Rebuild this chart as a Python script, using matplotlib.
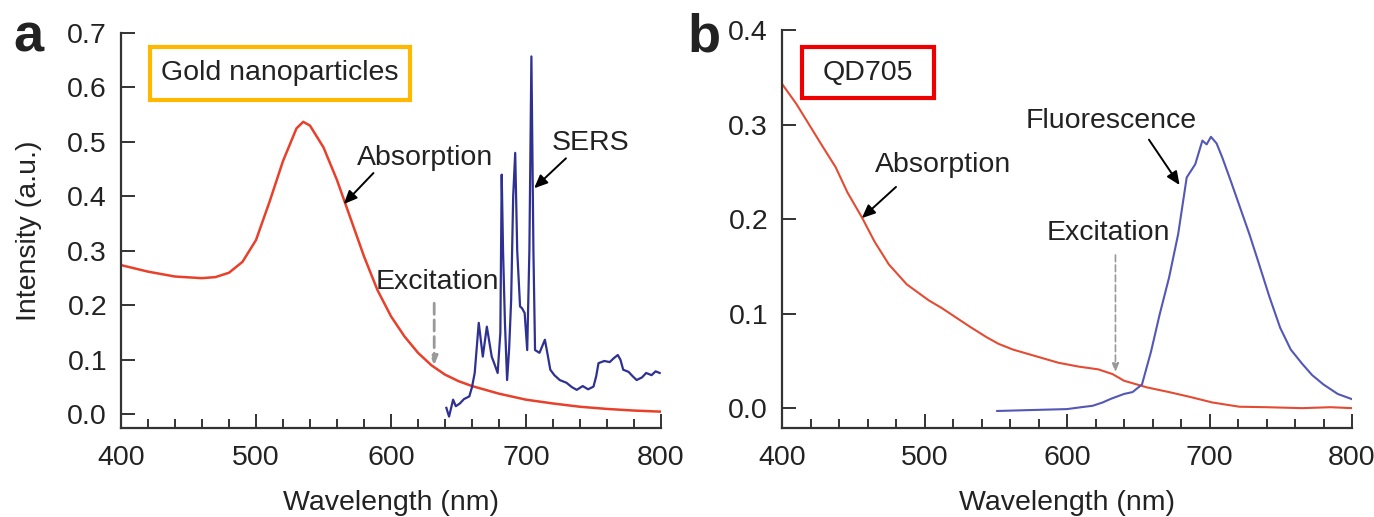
import matplotlib
matplotlib.use("Agg")
import matplotlib.pyplot as plt
from matplotlib.patches import Rectangle
from matplotlib.ticker import MultipleLocator

plt.rcParams["font.family"] = ["Liberation Sans", "DejaVu Sans"]

# panel a: gold nanoparticles
abs_a_wl = [400, 420, 440, 460, 470, 480, 490, 500, 510, 520, 530, 535, 540, 550, 560,
            570, 580, 590, 600, 610, 620, 630, 640, 650, 660, 680, 700, 720, 740, 760, 780, 800]
abs_a_val = [0.274, 0.262, 0.253, 0.250, 0.252, 0.260, 0.280, 0.320, 0.390, 0.465, 0.525,
             0.537, 0.530, 0.490, 0.430, 0.360, 0.290, 0.228, 0.180, 0.143, 0.113, 0.090,
             0.073, 0.061, 0.052, 0.038, 0.027, 0.020, 0.014, 0.010, 0.007, 0.005]
sers_wl = [641, 643, 646, 648, 651, 654, 658, 660, 662, 665, 668, 671, 674.6, 677, 679, 681,
           682, 683, 684.4, 686, 687.5, 689, 690.5, 692, 693.5, 695.6, 697, 699, 700.9, 702.5,
           704, 705.5, 706.7, 710, 714, 716, 718, 721, 725, 730, 734, 737.6, 742, 746, 750,
           752, 753.7, 758, 762, 765, 768, 770, 772, 776, 779, 782, 786, 789, 793, 796, 799]
sers_val = [0.012, -0.004, 0.027, 0.015, 0.020, 0.028, 0.033, 0.050, 0.076, 0.168, 0.106,
            0.161, 0.106, 0.090, 0.076, 0.150, 0.440, 0.300, 0.168, 0.063, 0.120, 0.210, 0.400,
            0.480, 0.300, 0.198, 0.195, 0.186, 0.118, 0.300, 0.657, 0.300, 0.118, 0.113, 0.137,
            0.110, 0.082, 0.072, 0.063, 0.058, 0.050, 0.045, 0.052, 0.046, 0.051, 0.070, 0.094,
            0.098, 0.096, 0.103, 0.109, 0.100, 0.082, 0.078, 0.070, 0.063, 0.068, 0.076, 0.072,
            0.079, 0.076]

# panel b: QD705
abs_b_wl = [400, 410, 419, 428, 437.6, 446, 456, 465, 475, 487.5, 503, 512, 522, 532,
            543.6, 552, 562, 578, 594, 608, 622, 632, 640, 656, 671.6, 686, 702, 721, 740,
            765, 785, 800]
abs_b_val = [0.343, 0.322, 0.300, 0.278, 0.255, 0.228, 0.202, 0.176, 0.152, 0.131, 0.114,
             0.106, 0.096, 0.086, 0.075, 0.068, 0.062, 0.055, 0.048, 0.044, 0.041, 0.036,
             0.029, 0.022, 0.017, 0.012, 0.006, 0.0015, 0.001, 0.000, 0.001, 0.000]
fl_wl = [551, 575, 600, 610, 618, 625, 631, 640, 646, 652.6, 659, 665, 671.6, 678, 684,
         690, 695, 698, 701, 705, 709, 715, 721.5, 728, 734, 742, 749.6, 757, 765, 772, 780,
         790, 800]
fl_val = [-0.003, -0.002, -0.001, 0.001, 0.0025, 0.006, 0.010, 0.015, 0.017, 0.025, 0.060,
          0.099, 0.138, 0.184, 0.244, 0.258, 0.283, 0.279, 0.287, 0.280, 0.265, 0.240, 0.212,
          0.184, 0.156, 0.118, 0.085, 0.062, 0.047, 0.035, 0.025, 0.015, 0.0095]

TXT = "#222222"
AX = "#333333"
FS = 20.5


def style(ax, ymax, ymin):
    ax.set_xlim(400, 800)
    ax.set_ylim(ymin, ymax)
    for side in ("top", "right"):
        ax.spines[side].set_visible(False)
    for side in ("left", "bottom"):
        ax.spines[side].set_color(AX)
        ax.spines[side].set_linewidth(1.6)
    ax.spines["left"].set_bounds(ymin, ymax)
    ax.xaxis.set_major_locator(MultipleLocator(100))
    ax.xaxis.set_minor_locator(MultipleLocator(20))
    ax.yaxis.set_major_locator(MultipleLocator(0.1))
    ax.tick_params(axis="both", which="major", direction="in", length=10, width=1.4,
                   color=AX, labelsize=FS, labelcolor=TXT)
    ax.tick_params(axis="x", which="major", pad=12)
    ax.tick_params(axis="y", which="major", pad=10)
    ax.tick_params(axis="x", which="minor", direction="in", length=6.5, width=1.4, color=AX)
    ax.yaxis.set_major_formatter(matplotlib.ticker.FormatStrFormatter("%.1f"))
    ax.set_xlabel("Wavelength (nm)", fontsize=FS, color=TXT, labelpad=14)


def label_box(ax, x0, y0, x1, y1, text, color):
    ax.add_patch(Rectangle((x0, y0), x1 - x0, y1 - y0, transform=ax.transAxes, fill=False,
                           edgecolor=color, linewidth=3, clip_on=False, zorder=5))
    ax.text((x0 + x1) / 2, (y0 + y1) / 2, text, transform=ax.transAxes, ha="center",
            va="center", fontsize=FS, color=TXT)


def note(ax, text, xy_text, tail, tip):
    ax.text(*xy_text, text, ha="center", va="center", fontsize=FS, color=TXT)
    ax.annotate("", xy=tip, xytext=tail,
                arrowprops=dict(arrowstyle="-|>,head_length=0.8,head_width=0.35",
                                color="black", lw=1.4, shrinkA=0, shrinkB=0))


def excitation(ax, xy_text, x, y0, y1, lw):
    ax.text(*xy_text, "Excitation", ha="center", va="center", fontsize=FS, color=TXT)
    ax.annotate("", xy=(x, y1), xytext=(x, y0),
                arrowprops=dict(arrowstyle="-|>,head_length=0.5,head_width=0.2",
                                color="#999999", lw=lw, linestyle=(0, (4, 2)),
                                shrinkA=0, shrinkB=0))


fig = plt.figure(figsize=(13.74, 5.17), dpi=100)
ax_a = fig.add_axes([121 / 1374, 89 / 517, 540 / 1374, 395 / 517])
ax_b = fig.add_axes([782 / 1374, 89 / 517, 570 / 1374, 398 / 517])

# panel a
style(ax_a, 0.7, -0.025)
ax_a.plot(abs_a_wl, abs_a_val, color="#E8402A", lw=1.8)
ax_a.plot(sers_wl, sers_val, color="#2E3192", lw=1.6)
ax_a.set_ylabel("Intensity (a.u.)", fontsize=FS, color=TXT, labelpad=18)
label_box(ax_a, 0.054, 0.830, 0.535, 0.965, "Gold nanoparticles", "#FFB800")
note(ax_a, "Absorption", (625, 0.47), (587, 0.443), (565, 0.386))
note(ax_a, "SERS", (748, 0.498), (729.6, 0.47), (706, 0.415))
excitation(ax_a, (634, 0.243), 632, 0.204, 0.09, 2.0)

# panel b
style(ax_b, 0.4, -0.021)
ax_b.plot(abs_b_wl, abs_b_val, color="#E54B33", lw=1.5)
ax_b.plot(fl_wl, fl_val, color="#5457B5", lw=1.5)
label_box(ax_b, 0.035, 0.829, 0.267, 0.957, "QD705", "#EE0000")
note(ax_b, "Absorption", (513, 0.257), (480, 0.234), (456, 0.201))
note(ax_b, "Fluorescence", (631, 0.304), (657.5, 0.284), (679, 0.236))
excitation(ax_b, (629, 0.185), 634, 0.162, 0.038, 1.2)

fig.text(13 / 1374, 1 - 51 / 517, "a", fontsize=39, fontweight="bold", color=TXT, va="baseline")
fig.text(687 / 1374, 1 - 52 / 517, "b", fontsize=39, fontweight="bold", color=TXT, va="baseline")

fig.savefig("out.png", dpi=100, facecolor="white")
